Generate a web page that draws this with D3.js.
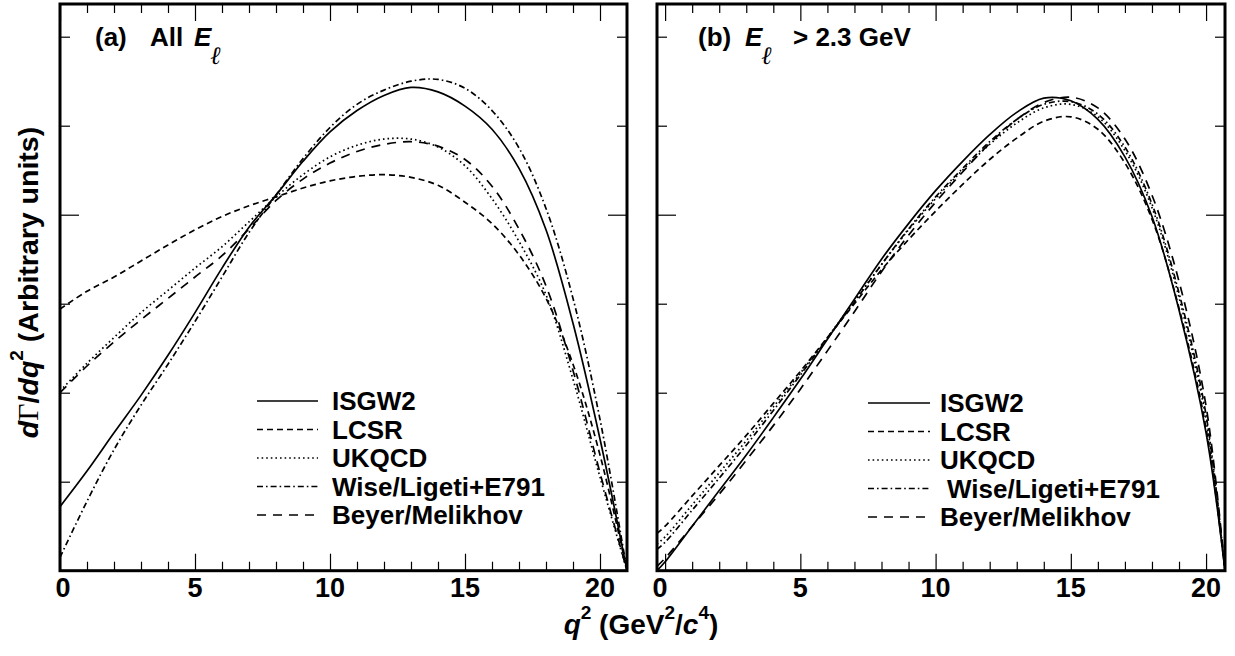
<!DOCTYPE html>
<html><head><meta charset="utf-8">
<script src="https://cdn.jsdelivr.net/npm/d3@7"></script>
<style>body{margin:0;background:#fff}svg{display:block}</style>
</head><body>
<svg id="c" width="1235" height="656"></svg>
<script>
// ---------- data ----------
const seriesNames = ["ISGW2","LCSR","UKQCD","Wise/Ligeti+E791","Beyer/Melikhov"];
const xTickLabels = ["0","5","10","15","20"];
const xMinorTicks = d3.range(0,21);
const yTicks = [1,2,3,4,5,6];

// panel (a): all E_l
const qA = [0,1,2,3,4,5,6,7,8,9,10,11,12,13,14,15,16,17,18,19,20,21];
const isgw2A = [0.72,1.12,1.55,1.97,2.42,2.9,3.4,3.86,4.22,4.6,4.93,5.17,5.34,5.43,5.38,5.22,4.96,4.52,3.83,2.78,1.48,0];
const lcsrA  = [2.94,3.14,3.3,3.48,3.66,3.83,3.98,4.1,4.2,4.3,4.38,4.43,4.45,4.42,4.33,4.14,3.9,3.55,3.06,2.32,1.3,0];
const ukqcdA = [2.02,2.33,2.62,2.9,3.15,3.4,3.64,3.92,4.2,4.45,4.65,4.78,4.85,4.85,4.76,4.55,4.18,3.7,3.1,2.15,1.05,0];
const wlA    = [0.15,0.78,1.36,1.86,2.32,2.8,3.3,3.8,4.22,4.63,4.98,5.24,5.4,5.5,5.52,5.42,5.17,4.75,4.07,3.06,1.7,0];
const bmA    = [2.0,2.3,2.57,2.82,3.06,3.3,3.54,3.84,4.16,4.4,4.58,4.71,4.79,4.82,4.77,4.62,4.32,3.84,3.2,2.25,1.1,0];

// panel (b): E_l > 2.3 GeV
const qB = [-0.3,0,1,2,3,4,5,6,7,8,9,10,11,12,13,14,15,16,17,18,19,20,20.7];
const isgw2B = [0.0,0.1,0.5,0.9,1.3,1.72,2.15,2.6,3.05,3.5,3.9,4.27,4.6,4.9,5.15,5.31,5.28,5.07,4.65,3.98,2.93,1.55,0];
const lcsrB  = [0.42,0.5,0.84,1.18,1.52,1.88,2.24,2.62,3.0,3.38,3.72,4.04,4.34,4.62,4.86,5.05,5.1,4.96,4.58,3.95,2.95,1.6,0];
const ukqcdB = [0.3,0.38,0.74,1.1,1.46,1.84,2.22,2.62,3.03,3.44,3.83,4.18,4.5,4.79,5.03,5.2,5.24,5.1,4.72,4.08,3.07,1.7,0];
const wlB    = [0.24,0.32,0.68,1.04,1.41,1.8,2.2,2.61,3.02,3.44,3.84,4.2,4.52,4.82,5.07,5.24,5.27,5.13,4.76,4.12,3.12,1.75,0];
const bmB    = [0.05,0.14,0.5,0.86,1.24,1.63,2.04,2.47,2.91,3.36,3.77,4.14,4.48,4.8,5.07,5.26,5.32,5.2,4.85,4.22,3.25,1.85,0];

// ---------- style ----------
const dashes = {"ISGW2":null,"LCSR":"6,4","UKQCD":"1.6,3","Wise/Ligeti+E791":"6,3,1.6,3","Beyer/Melikhov":"9,7"};
const FONT = "'Liberation Sans', Arial, Helvetica, sans-serif";
const yTop = 4, yBot = 570.7, yPerUnit = 89;

const svg = d3.select("#c");
svg.append("rect").attr("width",1235).attr("height",656).attr("fill","#fff");

const y = d3.scaleLinear().domain([0,(yBot-yTop)/yPerUnit]).range([yBot,yTop]);

function drawPanel(p, idx){
  const x = d3.scaleLinear().domain(p.domain).range(p.range);
  const g = svg.append("g");
  const clipId = "clip"+idx;
  g.append("clipPath").attr("id",clipId).append("rect")
    .attr("x",p.range[0]).attr("y",yTop).attr("width",p.range[1]-p.range[0]).attr("height",yBot-yTop);

  const line = d3.line().x((d,i)=>x(p.q[i])).y(d=>y(d)).curve(d3.curveCatmullRom.alpha(0.5));
  const cg = g.append("g").attr("clip-path",`url(#${clipId})`);
  seriesNames.forEach((name,k)=>{
    cg.append("path").datum(p.series[k]).attr("d",line)
      .attr("fill","none").attr("stroke","#000").attr("stroke-width",1.7)
      .attr("stroke-dasharray",dashes[name]);
  });

  const tick = (axis, tx, ty) => g.append("g").attr("transform",`translate(${tx},${ty})`)
      .call(axis).call(s=>s.select(".domain").remove())
      .call(s=>s.selectAll("line").attr("stroke","#000").attr("stroke-width",1.2));
  const xMinor = xMinorTicks.filter(v=>v>=p.domain[0] && v<=p.domain[1] && v%5!==0);
  const xMajor = xTickLabels.map(Number);
  tick(d3.axisBottom(x).tickValues(xMinor).tickSize(-9).tickFormat(""),0,yBot);
  tick(d3.axisBottom(x).tickValues(xMajor).tickSize(-17).tickFormat(""),0,yBot);
  tick(d3.axisTop(x).tickValues(xMinor).tickSize(-9).tickFormat(""),0,yTop);
  tick(d3.axisTop(x).tickValues(xMajor).tickSize(-17).tickFormat(""),0,yTop);
  const yShort = yTicks.filter(v=>v!==4), yLong=[4];
  tick(d3.axisLeft(y).tickValues(yShort).tickSize(-10).tickFormat(""),p.range[0],0);
  tick(d3.axisLeft(y).tickValues(yLong).tickSize(-19).tickFormat(""),p.range[0],0);
  tick(d3.axisRight(y).tickValues(yShort).tickSize(-10).tickFormat(""),p.range[1],0);
  tick(d3.axisRight(y).tickValues(yLong).tickSize(-19).tickFormat(""),p.range[1],0);

  g.append("rect").attr("x",p.range[0]).attr("y",yTop).attr("width",p.range[1]-p.range[0])
    .attr("height",yBot-yTop).attr("fill","none").attr("stroke","#000").attr("stroke-width",3);

  g.selectAll("text.xl").data(xTickLabels).join("text").attr("class","xl")
    .attr("x",(d,i)=>x(+d)+(i===0?p.zeroDx:0)).attr("y",597)
    .attr("text-anchor","middle").attr("font-family",FONT).attr("font-weight","bold")
    .attr("font-size",27).text(d=>d);

  const t = g.append("text").attr("font-family",FONT).attr("font-weight","bold").attr("font-size",26);
  t.append("tspan").attr("x",p.title.x0).attr("y",46).text(p.title.tag);
  if(p.title.pre){ t.append("tspan").attr("x",p.title.x1).attr("y",46).text(p.title.pre); }
  t.append("tspan").attr("x",p.title.xE).attr("y",46).attr("font-style","italic").text("E");
  g.append("text").attr("x",p.title.xl).attr("y",64).attr("font-family","'DejaVu Serif', serif")
    .attr("font-style","italic").attr("font-size",25).text("\u2113");
  if(p.title.post){ g.append("text").attr("x",p.title.xPost).attr("y",46).attr("font-family",FONT)
    .attr("font-weight","bold").attr("font-size",26).text(p.title.post); }

  const lg = g.append("g");
  seriesNames.forEach((name,k)=>{
    const ry = p.legend.rows[k];
    lg.append("line").attr("x1",p.legend.x1).attr("x2",p.legend.x2).attr("y1",ry).attr("y2",ry)
      .attr("stroke","#000").attr("stroke-width",1.7).attr("stroke-dasharray",dashes[name]);
    lg.append("text").attr("x",p.legend.tx + (k===3?p.legend.wiseDx:0)).attr("y",ry+9.3)
      .attr("font-family",FONT).attr("font-weight","bold").attr("font-size",26).text(name);
  });
}

drawPanel({domain:[0,21], range:[60,627], q:qA, series:[isgw2A,lcsrA,ukqcdA,wlA,bmA], zeroDx:3,
  title:{tag:"(a)", x0:95, pre:"All", x1:150, xE:194, xl:210},
  legend:{x1:257,x2:318,tx:332,wiseDx:0,rows:[401,429.5,458,486.5,515]}},0);
drawPanel({domain:[-0.3,20.7], range:[657,1225], q:qB, series:[isgw2B,lcsrB,ukqcdB,wlB,bmB], zeroDx:-5,
  title:{tag:"(b)", x0:698, xE:745, xl:761, post:"> 2.3 GeV", xPost:793},
  legend:{x1:868,x2:930,tx:940,wiseDx:7,rows:[403,431.5,460,488.5,517]}},1);

// axis titles
const xt = svg.append("text").attr("x",641).attr("y",634).attr("text-anchor","middle").attr("font-family",FONT)
  .attr("font-weight","bold").attr("font-size",28);
xt.append("tspan").attr("font-style","italic").text("q");
xt.append("tspan").attr("font-size",19).attr("dy",-15).text("2");
xt.append("tspan").attr("dy",15).text(" (GeV");
xt.append("tspan").attr("font-size",19).attr("dy",-15).text("2");
xt.append("tspan").attr("dy",15).text("/");
xt.append("tspan").attr("font-style","italic").text("c");
xt.append("tspan").attr("font-size",19).attr("dy",-15).text("4");
xt.append("tspan").attr("dy",15).text(")");

const yt = svg.append("text").attr("transform","translate(38,282.5) rotate(-90)")
  .attr("text-anchor","middle").attr("font-family",FONT).attr("font-weight","bold").attr("font-size",28.5);
yt.append("tspan").attr("font-style","italic").text("d");
yt.append("tspan").attr("font-family","'Liberation Serif', serif").attr("font-weight","normal").attr("font-size",30).text("\u0393");
yt.append("tspan").text("/");
yt.append("tspan").attr("font-style","italic").text("dq");
yt.append("tspan").attr("font-size",19).attr("dy",-15).text("2");
yt.append("tspan").attr("dy",15).text(" (Arbitrary units)");
</script>
</body></html>
